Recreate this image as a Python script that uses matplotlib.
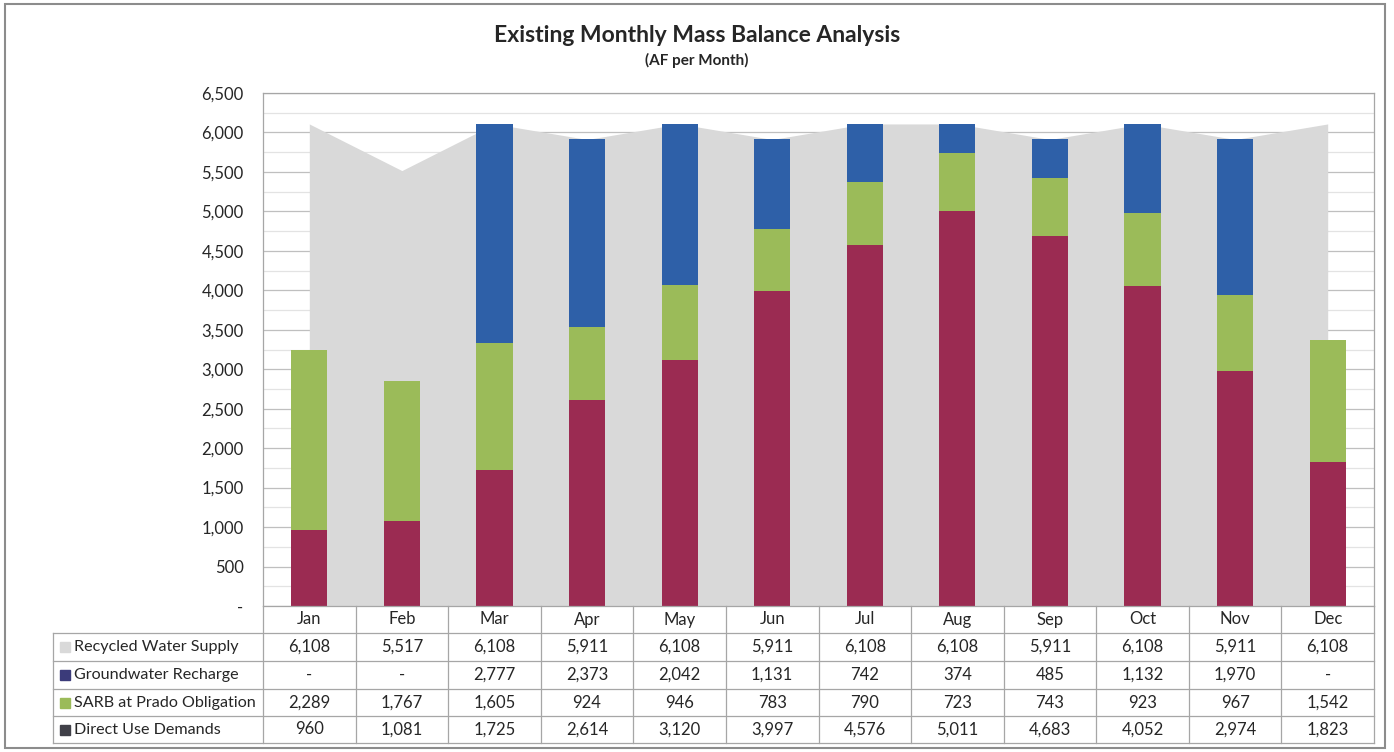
import matplotlib.pyplot as plt
import matplotlib.patches as mpatches
from matplotlib.ticker import MultipleLocator, FuncFormatter
import numpy as np

plt.rcParams['font.family'] = ['Lato', 'DejaVu Sans']

months = ['Jan', 'Feb', 'Mar', 'Apr', 'May', 'Jun', 'Jul', 'Aug', 'Sep', 'Oct', 'Nov', 'Dec']
recycled_supply = [6108, 5517, 6108, 5911, 6108, 5911, 6108, 6108, 5911, 6108, 5911, 6108]
groundwater_recharge = [0, 0, 2777, 2373, 2042, 1131, 742, 374, 485, 1132, 1970, 0]
sarb_obligation = [2289, 1767, 1605, 924, 946, 783, 790, 723, 743, 923, 967, 1542]
direct_use = [960, 1081, 1725, 2614, 3120, 3997, 4576, 5011, 4683, 4052, 2974, 1823]

row_names = ['Recycled Water Supply', 'Groundwater Recharge', 'SARB at Prado Obligation', 'Direct Use Demands']
row_values = [recycled_supply, groundwater_recharge, sarb_obligation, direct_use]
key_colors = ['#d9d9d9', '#3b3b7a', '#9bbb59', '#404048']

c_area = '#d9d9d9'
c_direct = '#9b2b52'
c_sarb = '#9bbb59'
c_gw = '#2e60a8'
c_line = '#a6a6a6'
c_text = '#262626'

W, H = 1394, 752
fig = plt.figure(figsize=(W / 100, H / 100), dpi=100)
ax = fig.add_axes([263 / W, (H - 606) / H, 1111 / W, 513 / H])

x = np.arange(len(months))
direct = np.array(direct_use)
sarb = np.array(sarb_obligation)
gw = np.array(groundwater_recharge)

ax.fill_between(x, recycled_supply, color=c_area, lw=0, zorder=1)
bw = 0.39
ax.bar(x, direct, bw, color=c_direct, zorder=2)
ax.bar(x, sarb, bw, bottom=direct, color=c_sarb, zorder=2)
ax.bar(x, gw, bw, bottom=direct + sarb, color=c_gw, zorder=2)

ax.set_xlim(-0.5, len(months) - 0.5)
ax.set_ylim(0, 6500)
ax.yaxis.set_major_locator(MultipleLocator(500))
ax.yaxis.set_minor_locator(MultipleLocator(250))
ax.yaxis.set_major_formatter(FuncFormatter(lambda v, p: '-' if v == 0 else f'{int(v):,}'))
ax.set_axisbelow(True)
ax.grid(axis='y', which='major', color='#bfbfbf', lw=0.9)
ax.grid(axis='y', which='minor', color='#e3e3e3', lw=0.9)
ax.tick_params(axis='y', which='both', length=0, pad=14, labelsize=12, labelcolor=c_text)
ax.set_xticks([])
for s in ax.spines.values():
    s.set_color(c_line)
    s.set_linewidth(0.9)

# data table under the chart
fmt = lambda v: '-' if v == 0 else f'{v:,}'
trans = ax.get_xaxis_transform()
ys = [(606 - p) / 513 for p in [606, 633, 661, 689, 716, 743]]
x_left = -0.5 - 210 / (1111 / 12)
x_right = len(months) - 0.5

for i, m in enumerate(months):
    ax.text(i, (ys[0] + ys[1]) / 2, m, transform=trans, ha='center', va='center',
            fontsize=12, color=c_text, clip_on=False)
for r, (name, vals, kc) in enumerate(zip(row_names, row_values, key_colors)):
    yc = (ys[r + 1] + ys[r + 2]) / 2
    for i, v in enumerate(vals):
        ax.text(i, yc, fmt(v), transform=trans, ha='center', va='center',
                fontsize=12, color=c_text, clip_on=False)
    ax.text(x_left + 0.23, yc, name, transform=trans, ha='left', va='center',
            fontsize=11.6, color=c_text, clip_on=False)
    ax.plot([x_left + 0.13], [yc], marker='s', ms=6.5, color=kc, transform=trans, clip_on=False)

for k in range(len(months) + 1):
    ax.plot([k - 0.5, k - 0.5], [ys[0], ys[-1]], color=c_line, lw=0.9, transform=trans, clip_on=False)
ax.plot([x_left, x_left], [ys[1], ys[-1]], color=c_line, lw=0.9, transform=trans, clip_on=False)
for yv in ys[1:]:
    ax.plot([x_left, x_right], [yv, yv], color=c_line, lw=0.9, transform=trans, clip_on=False)

fig.text(0.5, 1 - 35 / H, 'Existing Monthly Mass Balance Analysis', ha='center', va='center',
         fontsize=16.5, fontweight='bold', color=c_text)
fig.text(0.5, 1 - 60 / H, '(AF per Month)', ha='center', va='center',
         fontsize=11, fontweight='bold', color=c_text)

fig.patches.append(mpatches.Rectangle((5 / W, 4 / H), 1380 / W, 744 / H, transform=fig.transFigure,
                                      fill=False, edgecolor='#8c8c8c', lw=1.5))

fig.savefig('out.png', dpi=100)
